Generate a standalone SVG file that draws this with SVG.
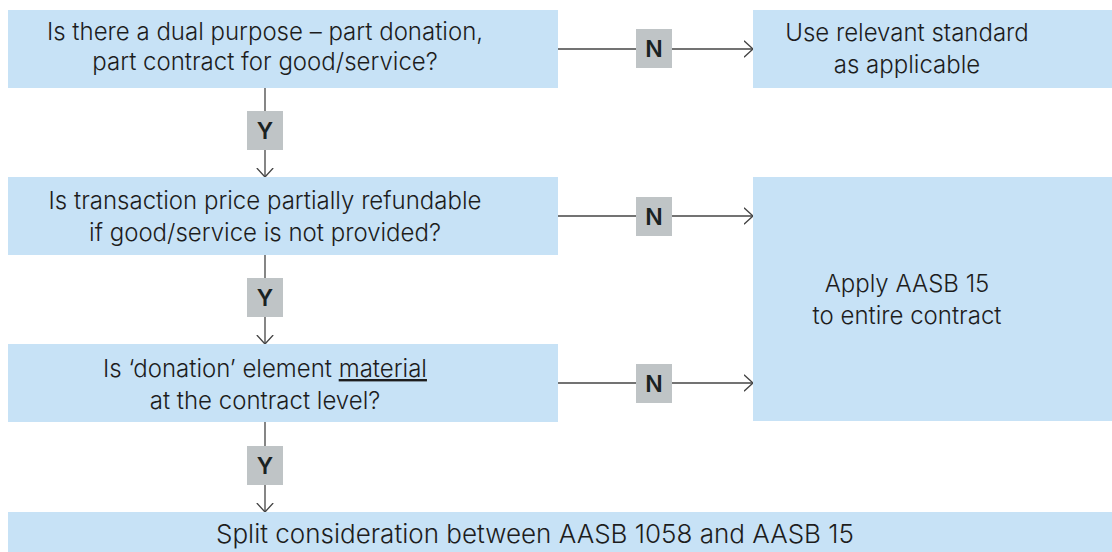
<svg xmlns="http://www.w3.org/2000/svg" width="1112" height="552" viewBox="0 0 1112 552">
<style>
.box{fill:#C7E2F6}
.lbl{fill:#BFC4C6}
.t{font-family:Inter,"Liberation Sans",Arial,sans-serif;font-size:24px;font-weight:300;fill:#1d1d1d;text-anchor:middle}
.big{font-size:26px}
.yn{font-family:Inter,"Liberation Sans",Arial,sans-serif;font-size:23px;font-weight:600;fill:#1a2222;text-anchor:middle}
.ln{stroke:#444;stroke-width:1.3;fill:none}
</style>
<defs>
<marker id="ah" viewBox="0 0 10 18" refX="9.5" refY="9" markerWidth="10" markerHeight="18" markerUnits="userSpaceOnUse" orient="auto">
<path d="M0.5,0.8 L9.5,9 L0.5,17.2" fill="none" stroke="#444" stroke-width="1.3"/>
</marker>
</defs>
<g id="connectors">
<line class="ln" x1="265" y1="88" x2="265" y2="177" marker-end="url(#ah)"/>
<line class="ln" x1="265" y1="255" x2="265" y2="344" marker-end="url(#ah)"/>
<line class="ln" x1="265" y1="422" x2="265" y2="512" marker-end="url(#ah)"/>
<line class="ln" x1="558" y1="49" x2="753" y2="49" marker-end="url(#ah)"/>
<line class="ln" x1="558" y1="216" x2="753" y2="216" marker-end="url(#ah)"/>
<line class="ln" x1="558" y1="383" x2="753" y2="383" marker-end="url(#ah)"/>
<g id="label-y1"><rect class="lbl" x="247" y="111" width="36" height="39"/><text class="yn" x="265" y="139">Y</text></g>
<g id="label-y2"><rect class="lbl" x="247" y="278" width="36" height="39"/><text class="yn" x="265" y="306">Y</text></g>
<g id="label-y3"><rect class="lbl" x="247" y="446" width="36" height="39"/><text class="yn" x="265" y="474">Y</text></g>
<g id="label-n1"><rect class="lbl" x="636" y="29" width="36" height="39"/><text class="yn" x="654" y="57">N</text></g>
<g id="label-n2"><rect class="lbl" x="636" y="197" width="36" height="39"/><text class="yn" x="654" y="225">N</text></g>
<g id="label-n3"><rect class="lbl" x="636" y="364" width="36" height="39"/><text class="yn" x="654" y="392">N</text></g>
</g>
<g id="q1">
<rect class="box" x="8" y="10" width="550" height="78"/>
<text class="t" x="265" y="40">Is there a dual purpose – part donation,</text>
<text class="t" x="265" y="70">part contract for good/service?</text>
</g>
<g id="use-relevant">
<rect class="box" x="753" y="10" width="359" height="78"/>
<text class="t" x="907" y="41">Use relevant standard</text>
<text class="t" x="907" y="73">as applicable</text>
</g>
<g id="q2">
<rect class="box" x="8" y="177" width="550" height="78"/>
<text class="t" x="265" y="209">Is transaction price partially refundable</text>
<text class="t" x="265" y="241">if good/service is not provided?</text>
</g>
<g id="apply-aasb15">
<rect class="box" x="753" y="177" width="359" height="244"/>
<text class="t" x="907" y="292">Apply AASB 15</text>
<text class="t" x="907" y="324">to entire contract</text>
</g>
<g id="q3">
<rect class="box" x="8" y="344" width="550" height="78"/>
<text class="t" x="265" y="377">Is ‘donation’ element <tspan text-decoration="underline">material</tspan></text>
<text class="t" x="265" y="409">at the contract level?</text>
</g>
<g id="split">
<rect class="box" x="8" y="512" width="1104" height="40"/>
<text class="t big" x="535" y="543">Split consideration between AASB 1058 and AASB 15</text>
</g>
</svg>
